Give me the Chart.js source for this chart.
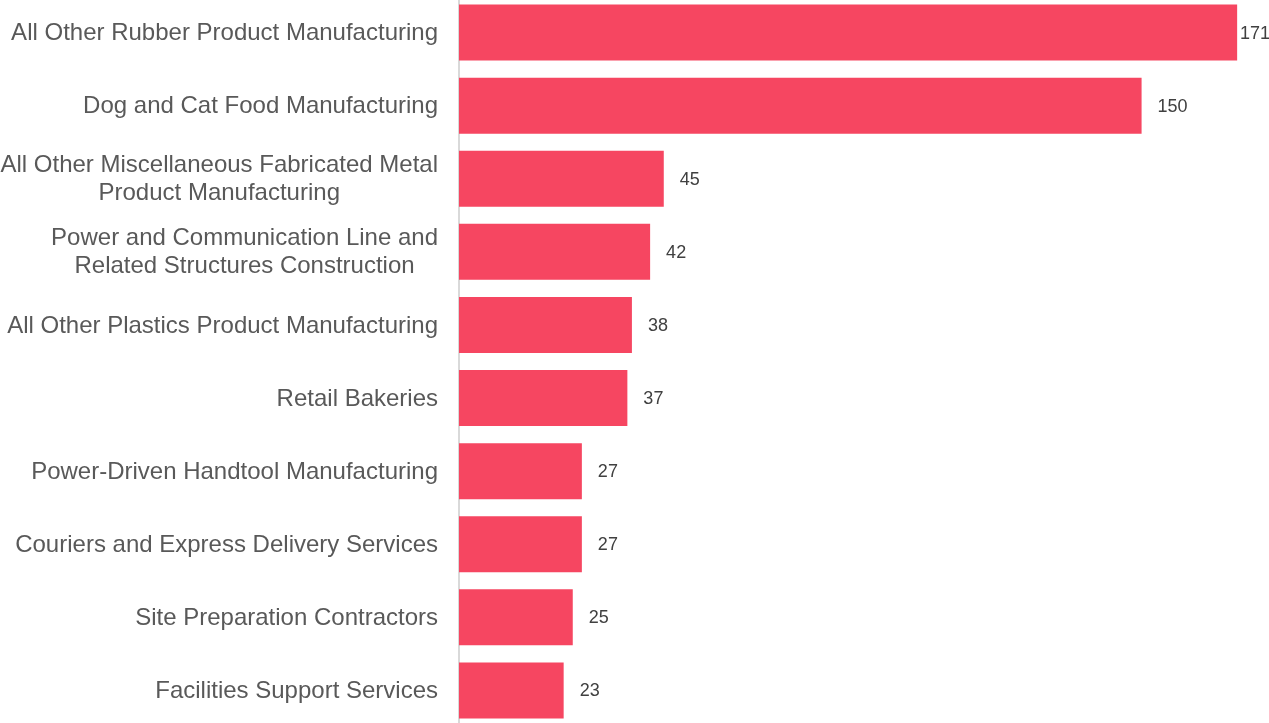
<!DOCTYPE html>
<html>
<head>
<meta charset="utf-8">
<script src="https://cdn.jsdelivr.net/npm/chart.js@4/dist/chart.umd.min.js"></script>
<style>
  html, body { margin: 0; padding: 0; background: #ffffff; overflow: hidden; }
  #wrap { position: absolute; left: 0; top: -4px; width: 1269px; height: 731px; }
</style>
</head>
<body>
<div id="wrap"><canvas id="chart"></canvas></div>
<script>
// Industries (each entry is one or two text lines) and their counts
const industries = [
  ['All Other Rubber Product Manufacturing'],
  ['Dog and Cat Food Manufacturing'],
  ['All Other Miscellaneous Fabricated Metal', 'Product Manufacturing'],
  ['Power and Communication Line and', 'Related Structures Construction'],
  ['All Other Plastics Product Manufacturing'],
  ['Retail Bakeries'],
  ['Power-Driven Handtool Manufacturing'],
  ['Couriers and Express Delivery Services'],
  ['Site Preparation Contractors'],
  ['Facilities Support Services']
];
const counts = [171, 150, 45, 42, 38, 37, 27, 27, 25, 23];

const FONT = '"Liberation Sans", Arial, sans-serif';
const LABEL_WIDTH = 459;

// Category labels: right-aligned block, wrapped lines centred within the block
const categoryLabels = {
  id: 'categoryLabels',
  afterDraw(chart) {
    const ctx = chart.ctx;
    const y = chart.scales.y;
    ctx.save();
    ctx.font = '24px ' + FONT;
    ctx.fillStyle = '#595959';
    ctx.textBaseline = 'middle';
    ctx.textAlign = 'center';
    const right = LABEL_WIDTH - 21;
    const lh = 28;
    industries.forEach((lines, i) => {
      const cy = y.getPixelForValue(i) + 1;
      const blockW = Math.max(...lines.map(l => ctx.measureText(l).width));
      const centre = right - blockW / 2;
      lines.forEach((l, k) => {
        const ly = cy + (k - (lines.length - 1) / 2) * lh;
        ctx.fillText(l, centre, ly);
      });
    });
    ctx.restore();
  }
};

// Value labels after each bar, kept inside the canvas
const valueLabels = {
  id: 'valueLabels',
  afterDatasetsDraw(chart) {
    const ctx = chart.ctx;
    const meta = chart.getDatasetMeta(0);
    ctx.save();
    ctx.font = '18px ' + FONT;
    ctx.fillStyle = '#404040';
    ctx.textBaseline = 'middle';
    ctx.textAlign = 'left';
    meta.data.forEach((bar, i) => {
      const txt = String(counts[i]);
      const w = ctx.measureText(txt).width;
      const x = Math.min(bar.x + 16, chart.width - w + 1);
      ctx.fillText(txt, x, bar.y + 1);
    });
    ctx.restore();
  }
};

new Chart(document.getElementById('chart'), {
  type: 'bar',
  data: {
    labels: industries.map(l => l.join(' ')),
    datasets: [{
      data: counts,
      backgroundColor: '#F64661',
      borderWidth: 0,
      barPercentage: 0.766,
      categoryPercentage: 1.0
    }]
  },
  options: {
    indexAxis: 'y',
    responsive: true,
    maintainAspectRatio: false,
    animation: false,
    layout: { padding: 0 },
    plugins: { legend: { display: false }, tooltip: { enabled: false } },
    scales: {
      x: {
        display: false,
        min: 0,
        max: 178
      },
      y: {
        afterFit(scale) { scale.width = LABEL_WIDTH; },
        ticks: { display: false },
        grid: { display: false, drawTicks: false },
        border: { display: true, color: '#d9d9d9', width: 2 }
      }
    }
  },
  plugins: [categoryLabels, valueLabels]
});
</script>
</body>
</html>
